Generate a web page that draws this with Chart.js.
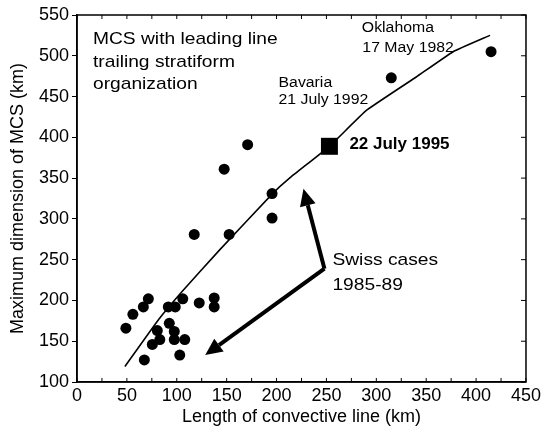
<!DOCTYPE html>
<html>
<head>
<meta charset="utf-8">
<script src="https://cdn.jsdelivr.net/npm/chart.js@4.4.0/dist/chart.umd.min.js"></script>
<style>
  html, body { margin: 0; padding: 0; background: #fff; }
</style>
</head>
<body>
<canvas id="mcsChart" width="544" height="431"></canvas>
<script>
// Swiss cases + Bavaria / Oklahoma (filled dots)
const caseLength = [49, 56, 66.5, 71.5, 67.5, 75.5, 80.5, 83, 91.5, 98.5, 92.5, 97.5, 97.5, 103, 108, 106, 122.5, 137.5, 137.5, 117.5, 152.5, 147.5, 171, 195.5, 195.5, 315, 415];
const caseDimension = [166, 183, 192, 202, 127, 146, 163, 152, 192, 192, 172, 162, 152, 133, 152, 202, 197, 203, 192, 281, 281, 361, 391, 331, 301, 473, 505];

// fitted curve
const fitLength = [48, 82, 106, 143, 196, 213, 253, 290, 340, 377, 414];
const fitDimension = [119, 177, 212, 262, 331, 350, 389, 433, 474, 505, 525];

// 22 July 1995 case (square)
const studyLength = [253];
const studyDimension = [389];

const xTicks = [0, 50, 100, 150, 200, 250, 300, 350, 400, 450];
const yTicks = [100, 150, 200, 250, 300, 350, 400, 450, 500, 550];

// "Swiss cases" arrows: common start, two tips
const arrowStart = [248, 239];
const arrowTipLength = [227, 128.5];
const arrowTipDimension = [337, 133];

// text labels, anchored in data units (left edge, middle of line)
const noteText = ["MCS with leading line", "trailing stratiform", "organization", "Oklahoma", "17 May 1982", "Bavaria", "21 July 1992", "22 July 1995", "Swiss cases", "1985-89"];
const noteX = [16, 16, 16, 285.5, 286, 202, 202, 273, 256, 256];
const noteY = [520.5, 492.5, 465.5, 533.5, 509, 467, 445.5, 391.5, 249.5, 218.5];
const noteSize = [17, 17, 17, 14, 14, 14, 14, 17, 17, 17];
const noteBold = [false, false, false, false, false, false, false, true, false, false];

const FONT = "'Liberation Sans', Arial, Helvetica, sans-serif";

const extras = {
  id: "extras",
  afterDatasetsDraw(chart) {
    const ctx = chart.ctx;
    const xs = chart.scales.x;
    const ys = chart.scales.y;
    const a = chart.chartArea;
    ctx.save();

    // frame + inward ticks
    ctx.strokeStyle = "#000";
    ctx.lineWidth = 1.5;
    ctx.strokeRect(a.left, a.top, a.right - a.left, a.bottom - a.top);
    ctx.lineWidth = 1;
    ctx.beginPath();
    for (let v = 0; v <= 450; v += 25) {
      const px = xs.getPixelForValue(v);
      ctx.moveTo(px, a.bottom); ctx.lineTo(px, a.bottom - 4);
      ctx.moveTo(px, a.top); ctx.lineTo(px, a.top + 4);
    }
    yTicks.forEach((v) => {
      const py = ys.getPixelForValue(v);
      ctx.moveTo(a.right, py); ctx.lineTo(a.right - 5, py);
    });
    ctx.stroke();

    // arrows
    const sx = xs.getPixelForValue(arrowStart[0]);
    const sy = ys.getPixelForValue(arrowStart[1]);
    ctx.fillStyle = "#000";
    ctx.lineWidth = 4;
    ctx.lineCap = "butt";
    arrowTipLength.forEach((tl, i) => {
      const tx = xs.getPixelForValue(tl);
      const ty = ys.getPixelForValue(arrowTipDimension[i]);
      const ang = Math.atan2(ty - sy, tx - sx);
      const head = 17, half = 8;
      const bx = tx - head * Math.cos(ang);
      const by = ty - head * Math.sin(ang);
      ctx.beginPath();
      ctx.moveTo(sx, sy);
      ctx.lineTo(bx, by);
      ctx.stroke();
      ctx.beginPath();
      ctx.moveTo(tx, ty);
      ctx.lineTo(bx + half * Math.sin(ang), by - half * Math.cos(ang));
      ctx.lineTo(bx - half * Math.sin(ang), by + half * Math.cos(ang));
      ctx.closePath();
      ctx.fill();
    });

    // texts
    ctx.textBaseline = "middle";
    ctx.textAlign = "left";
    noteText.forEach((t, i) => {
      ctx.font = (noteBold[i] ? "bold " : "") + noteSize[i] + "px " + FONT;
      const px = xs.getPixelForValue(noteX[i]);
      const py = ys.getPixelForValue(noteY[i]);
      ctx.save();
      ctx.translate(px, py);
      if (!noteBold[i]) ctx.scale(1.13, 1);
      ctx.fillText(t, 0, 0);
      ctx.restore();
    });
    ctx.restore();
  },
};

const ctx = document.getElementById("mcsChart").getContext("2d");
new Chart(ctx, {
  type: "scatter",
  data: {
    datasets: [
      {
        label: "fit",
        data: fitLength.map((x, i) => ({ x: x, y: fitDimension[i] })),
        showLine: true,
        borderColor: "#000",
        borderWidth: 1.6,
        pointRadius: 0,
        tension: 0.1,
      },
      {
        label: "cases",
        data: caseLength.map((x, i) => ({ x: x, y: caseDimension[i] })),
        pointRadius: 5.5,
        pointBackgroundColor: "#000",
        pointBorderColor: "#000",
        pointBorderWidth: 0,
      },
      {
        label: "22 July 1995",
        data: studyLength.map((x, i) => ({ x: x, y: studyDimension[i] })),
        pointStyle: "rect",
        pointRadius: 12,
        pointBackgroundColor: "#000",
        pointBorderColor: "#000",
        pointBorderWidth: 0,
      },
    ],
  },
  options: {
    responsive: false,
    animation: false,
    devicePixelRatio: 1,
    layout: { padding: { top: 15, right: 18, left: 0, bottom: 0 } },
    plugins: { legend: { display: false }, tooltip: { enabled: false } },
    scales: {
      x: {
        type: "linear",
        min: 0,
        max: 450,
        afterBuildTicks: (s) => { s.ticks = xTicks.map((v) => ({ value: v })); },
        afterFit: (s) => { s.height = 49; },
        grid: { display: true, drawOnChartArea: false, drawTicks: false },
        border: { display: true, color: "#000", width: 1.5 },
        ticks: { color: "#000", padding: 3, maxRotation: 0, font: { family: FONT, size: 18 } },
        title: { display: true, text: "Length of convective line (km)", color: "#000", padding: { top: 0, bottom: 3 }, font: { family: FONT, size: 18 } },
      },
      y: {
        type: "linear",
        min: 100,
        max: 550,
        afterBuildTicks: (s) => { s.ticks = yTicks.map((v) => ({ value: v })); },
        afterFit: (s) => { s.width = 77; },
        grid: { display: true, drawOnChartArea: false, drawTicks: true, tickLength: 5, color: "#000" },
        border: { display: true, color: "#000", width: 1.5 },
        ticks: { color: "#000", padding: 3, font: { family: FONT, size: 18 } },
        title: { display: true, text: "Maximum dimension of MCS (km)", color: "#000", padding: { top: 7, bottom: 0 }, font: { family: FONT, size: 18 } },
      },
    },
  },
  plugins: [extras],
});
</script>
</body>
</html>
